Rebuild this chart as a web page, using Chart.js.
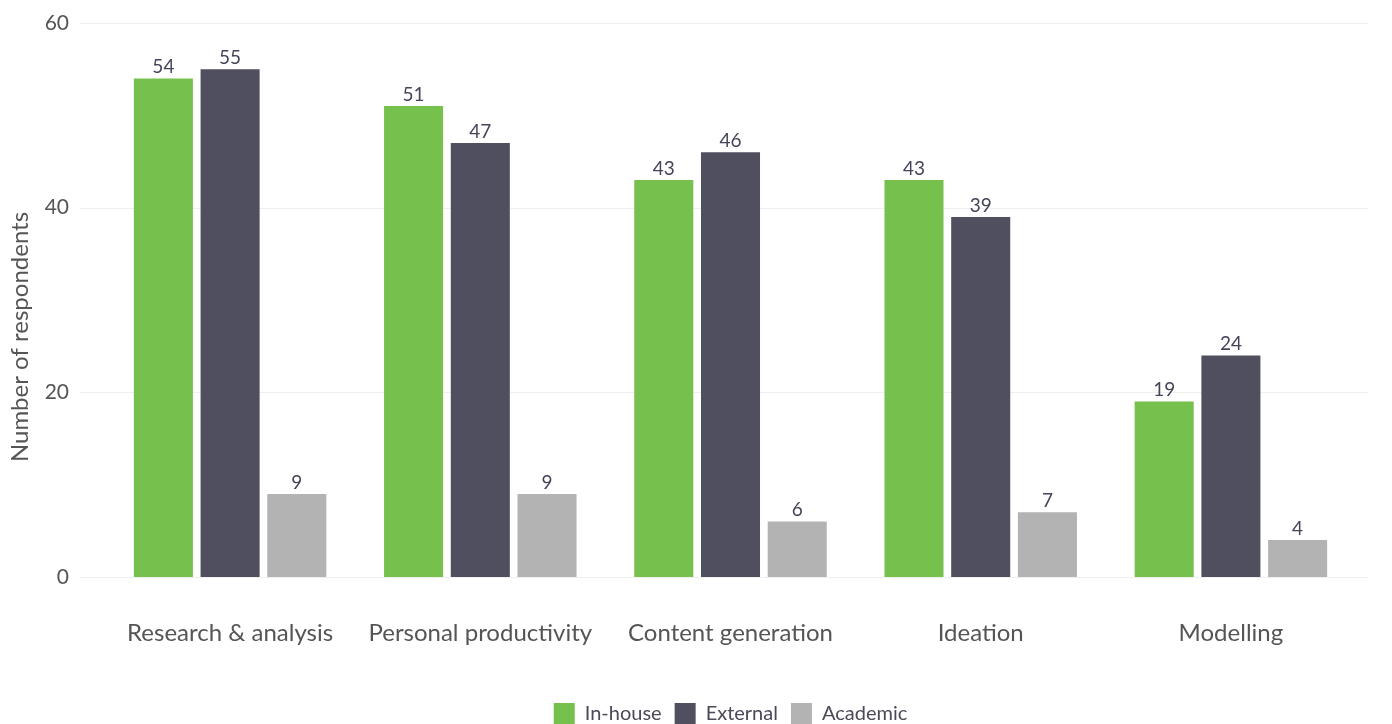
<!DOCTYPE html>
<html>
<head>
<meta charset="utf-8">
<script src="https://cdn.jsdelivr.net/npm/chart.js@4"></script>
<style>
  html, body { margin: 0; padding: 0; background: #fff; }
  #wrap { width: 1392px; height: 724px; }
</style>
</head>
<body>
<div id="wrap"><canvas id="chart" width="1392" height="724"></canvas></div>
<script>
// Data
const categories = ['Research & analysis', 'Personal productivity', 'Content generation', 'Ideation', 'Modelling'];
const inHouse = [54, 51, 43, 43, 19];
const external = [55, 47, 46, 39, 24];
const academic = [9, 9, 6, 7, 4];
const yTicks = [0, 20, 40, 60];
const yTitle = 'Number of respondents';

const FONT = 'Lato, "Open Sans", sans-serif';

// pin the plot box where the reference has it
const pinLayout = {
  id: 'pinLayout',
  afterLayout(chart) {
    const top = 23, bottom = 577;
    const ca = chart.chartArea, x = chart.scales.x, y = chart.scales.y;
    ca.top = top; ca.bottom = bottom; ca.height = bottom - top;
    y.top = top; y.bottom = bottom; y.height = bottom - top;
    const xh = x.height;
    x.top = bottom; x.bottom = bottom + xh;
    y.configure(); x.configure();
    y._labelItems = null; x._labelItems = null;
    const lg = chart.legend;
    if (lg) {
      const h = lg.height;
      lg.top = 690; lg.bottom = 690 + h;
      lg.left = ca.left; lg.right = ca.right; lg.width = ca.right - ca.left;
    }
  }
};

// value labels above each bar, plus the y title
const valueLabels = {
  id: 'valueLabels',
  afterDatasetsDraw(chart) {
    const ctx = chart.ctx;
    ctx.save();
    ctx.font = '19px ' + FONT;
    ctx.fillStyle = '#44445a';
    ctx.textAlign = 'center';
    ctx.textBaseline = 'bottom';
    chart.data.datasets.forEach((ds, i) => {
      chart.getDatasetMeta(i).data.forEach((bar, j) => {
        ctx.fillText(ds.data[j], bar.x, bar.y - 2);
      });
    });
    ctx.translate(20, 337);
    ctx.rotate(-Math.PI / 2);
    ctx.font = '24px ' + FONT;
    ctx.fillStyle = '#555';
    ctx.textBaseline = 'middle';
    ctx.fillText(yTitle, 0, 0);
    ctx.restore();
  }
};

// horizontal grid lines that run a bit wider than the bars
const wideGrid = {
  id: 'wideGrid',
  beforeDatasetsDraw(chart) {
    const ctx = chart.ctx, y = chart.scales.y;
    ctx.save();
    ctx.strokeStyle = '#efefef';
    ctx.lineWidth = 1;
    yTicks.forEach(v => {
      const py = Math.round(y.getPixelForValue(v)) + 0.5;
      ctx.beginPath();
      ctx.moveTo(80, py);
      ctx.lineTo(1368, py);
      ctx.stroke();
    });
    ctx.restore();
  }
};

new Chart(document.getElementById('chart'), {
  type: 'bar',
  data: {
    labels: categories,
    datasets: [
      { label: 'In-house', data: inHouse, backgroundColor: '#76c04d' },
      { label: 'External', data: external, backgroundColor: '#4f4f60' },
      { label: 'Academic', data: academic, backgroundColor: '#b3b3b3' }
    ]
  },
  options: {
    responsive: false,
    animation: false,
    categoryPercentage: 0.8,
    barPercentage: 0.885,
    layout: { padding: { top: 0, right: 36, left: 8, bottom: 0 } },
    plugins: {
      tooltip: { enabled: false },
      legend: {
        position: 'bottom',
        labels: {
          font: { family: FONT, size: 20 },
          color: '#4a4a58',
          boxWidth: 21,
          boxHeight: 21,
          padding: 13
        }
      }
    },
    scales: {
      x: {
        grid: { display: false },
        border: { display: false },
        afterFit(s) { s.height = 100; },
        ticks: { font: { family: FONT, size: 24 }, color: '#555', padding: 34, maxRotation: 0 }
      },
      y: {
        min: 0,
        max: 60,
        grid: { display: false },
        border: { display: false },
        afterFit(s) { s.width = 97; },
        afterBuildTicks(s) { s.ticks = yTicks.map(v => ({ value: v })); },
        ticks: { font: { family: FONT, size: 21 }, color: '#555', padding: 28 }
      }
    }
  },
  plugins: [pinLayout, wideGrid, valueLabels]
});
</script>
</body>
</html>
